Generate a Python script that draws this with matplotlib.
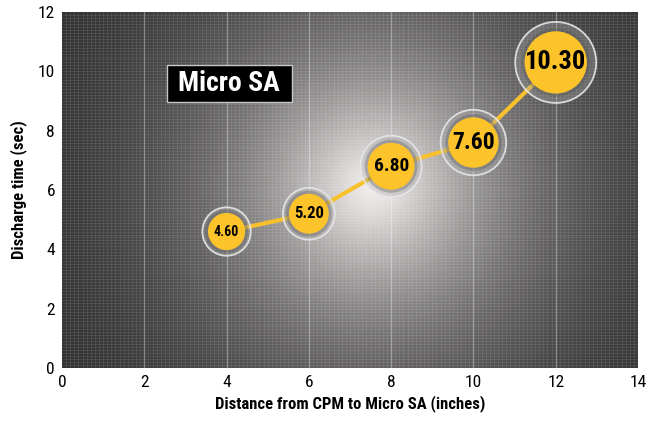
import numpy as np
import matplotlib
matplotlib.use("Agg")
import matplotlib.pyplot as plt
from matplotlib.patches import Rectangle

# data
distance = [4, 6, 8, 10, 12]
discharge = [4.60, 5.20, 6.80, 7.60, 10.30]
labels = ["4.60", "5.20", "6.80", "7.60", "10.30"]
x_ticks = [0, 2, 4, 6, 8, 10, 12, 14]
y_ticks = [0, 2, 4, 6, 8, 10, 12]

plt.rcParams['font.family'] = ['Roboto Condensed', 'DejaVu Sans']

W, H = 654, 422
fig = plt.figure(figsize=(W / 100, H / 100), dpi=100)
ax = fig.add_axes([62 / W, 54 / H, 576 / W, 356 / H])
ax.set_xlim(0, 14)
ax.set_ylim(0, 12)

# radial glow background (pixel space so it stays round)
nx, ny = 576, 356
px, py = np.meshgrid(np.arange(nx), np.arange(ny))
cx, cy = 310, 175  # glow centre, px from top-left of the axes
d = np.hypot(px - cx, py - cy)
v = 0.17 + 0.78 * np.exp(-(d / 150.0) ** 1.3)
img = np.dstack([v * 1.0, v * 0.98, v * 0.98])
ax.imshow(img, extent=[0, 14, 0, 12], aspect='auto', zorder=0, interpolation='bilinear')

# fine grid
for gx in np.arange(0.1, 14, 0.1):
    ax.axvline(gx, color='white', lw=0.5, alpha=0.12, zorder=1)
for gy in np.arange(0.1, 12, 0.1):
    ax.axhline(gy, color='white', lw=0.5, alpha=0.12, zorder=1)
for gx in x_ticks[1:-1]:
    ax.axvline(gx, color='white', lw=1.0, alpha=0.3, zorder=1)

# connecting line
ax.plot(distance, discharge, color='#f7c12d', lw=3, zorder=2, solid_capstyle='round')

# bubbles grow with the value
inner_r = np.array([8.5 + 2.2 * v for v in discharge])   # px
outer_r = inner_r * 1.3
s_inner = (2 * inner_r * 0.72) ** 2
s_outer = (2 * outer_r * 0.72) ** 2
s_shadow = (2 * (inner_r + 3) * 0.72) ** 2
ax.scatter(distance, discharge, s=s_outer, facecolor=(0.66, 0.66, 0.66, 0.35),
           edgecolor=(0.9, 0.9, 0.9, 0.9), linewidth=1.3, zorder=3)
ax.scatter(distance, discharge, s=s_shadow, facecolor=(0.3, 0.3, 0.3, 0.3),
           edgecolor='none', zorder=3.5)
ax.scatter(distance, discharge, s=s_inner, facecolor='#fcc32a', edgecolor='none', zorder=4)

font_sizes = [10, 12, 14, 17, 19]
for x, y, lab, fs in zip(distance, discharge, labels, font_sizes):
    ax.text(x, y, lab, ha='center', va='center', fontsize=fs, fontweight='bold',
            color='black', zorder=5)

# title box
ax.add_patch(Rectangle((0.182, 0.747), 0.217, 0.104, transform=ax.transAxes,
                       facecolor='black', edgecolor='#c8c8c8', linewidth=1, zorder=6))
ax.text(0.2905, 0.799, "Micro SA", transform=ax.transAxes, ha='center', va='center',
        fontsize=20, fontweight='bold', color='white', zorder=7)

ax.set_xticks(x_ticks)
ax.set_yticks(y_ticks)
ax.tick_params(length=0, labelsize=12.5, pad=5)
for sp in ax.spines.values():
    sp.set_visible(False)
ax.set_xlabel("Distance from CPM to Micro SA (inches)", fontsize=12, fontweight='bold', labelpad=4)
ax.set_ylabel("Discharge time (sec)", fontsize=12, fontweight='bold', labelpad=8)

fig.savefig("out.png", dpi=100)
